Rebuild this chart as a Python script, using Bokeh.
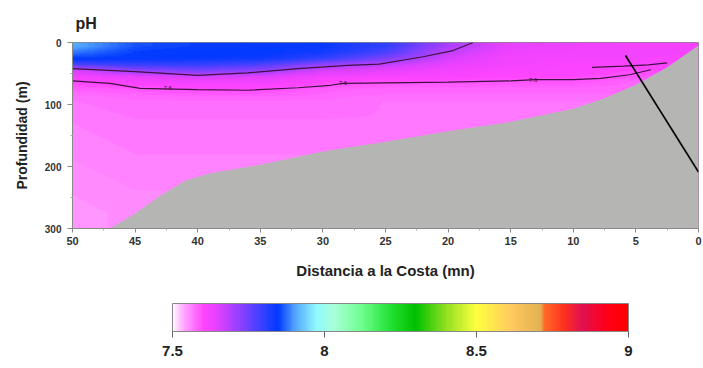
import numpy as np
from bokeh.plotting import figure
from bokeh.models import Range1d, LinearColorMapper, ColorBar, FixedTicker, Title
from bokeh.layouts import column
from bokeh.embed import file_html
from bokeh.resources import INLINE

# ---------------- data ----------------
dist_cols = [50, 45, 40, 35, 30, 25, 20, 15, 10, 5, 0]          # nm, station columns
depth_upper = [5, 15, 25, 35, 45, 55, 65, 75, 85, 95]            # m
depth_lower = [125, 175, 225, 275]                               # m

ph_upper = [
    [7.91, 7.86, 7.85, 7.845, 7.84, 7.80, 7.70, 7.64, 7.63, 7.62, 7.62],
    [7.88, 7.85, 7.845, 7.845, 7.83, 7.78, 7.68, 7.63, 7.62, 7.62, 7.62],
    [7.85, 7.845, 7.84, 7.835, 7.80, 7.74, 7.66, 7.62, 7.62, 7.62, 7.61],
    [7.78, 7.80, 7.80, 7.78, 7.72, 7.68, 7.64, 7.62, 7.61, 7.61, 7.60],
    [7.66, 7.72, 7.74, 7.72, 7.66, 7.64, 7.62, 7.61, 7.61, 7.60, 7.60],
    [7.62, 7.64, 7.66, 7.65, 7.62, 7.61, 7.61, 7.60, 7.60, 7.59, 7.59],
    [7.60, 7.61, 7.62, 7.62, 7.60, 7.59, 7.59, 7.59, 7.59, 7.58, 7.58],
    [7.585, 7.59, 7.60, 7.60, 7.585, 7.58, 7.58, 7.58, 7.58, 7.58, 7.58],
    [7.575, 7.58, 7.585, 7.585, 7.58, 7.575, 7.575, 7.575, 7.575, 7.575, 7.575],
    [7.57, 7.575, 7.575, 7.575, 7.575, 7.57, 7.57, 7.57, 7.57, 7.57, 7.57],
]
ph_lower = [
    [7.565, 7.57, 7.57, 7.57, 7.57, 7.57, 7.57, 7.57, 7.57, 7.57, 7.57],
    [7.56, 7.565, 7.565, 7.565, 7.565, 7.565, 7.565, 7.565, 7.565, 7.565, 7.565],
    [7.555, 7.56, 7.56, 7.56, 7.56, 7.56, 7.56, 7.56, 7.56, 7.56, 7.56],
    [7.55, 7.555, 7.555, 7.555, 7.555, 7.555, 7.555, 7.555, 7.555, 7.555, 7.555],
]

# contour lines
iso_a_dist = [50, 45, 40, 36, 32, 28, 25.5, 22, 19.6, 18]
iso_a_depth = [42, 47, 53, 49, 42, 37, 35, 23, 13, 0]
iso_b_dist = [50, 47, 44.6, 40, 36, 32, 29.4, 28.4, 25, 20, 15, 13, 10, 7.8, 5.5, 3.8]
iso_b_depth = [62, 66, 74, 76, 77, 73, 69, 66, 65, 64, 62, 60, 60, 58, 52, 44]
iso_c_dist = [8.5, 6, 4, 2.5]
iso_c_depth = [40, 38, 36, 33]
label_dist = [42.4, 28.4, 13.2]
label_depth = [74, 66, 60]
label_text = ["7.6", "7.6", "7.6"]

# bathymetry (bottom)
bottom_dist = [47, 45, 43, 41, 39, 35, 30, 25, 20, 15, 10, 7.5, 5, 2.5, 0]
bottom_depth = [300, 276, 247, 223, 211, 197, 176, 160, 143, 128, 107, 90, 68, 40, 5]

# transect line drawn over the section
transect_dist = [5.83, 0]
transect_depth = [21, 209]

x_ticks = [50, 45, 40, 35, 30, 25, 20, 15, 10, 5, 0]
y_ticks = [0, 100, 200, 300]
cbar_ticks = [7.5, 8, 8.5, 9]

# ---------------- palette (colour scale style) ----------------
stops = [
    (7.50, "#fff4ff"), (7.53, "#ffb0ff"), (7.57, "#ff70ff"), (7.60, "#ff44ff"),
    (7.65, "#e040ff"), (7.72, "#9040ff"), (7.80, "#3040ff"), (7.845, "#0038ff"),
    (7.90, "#50a0ff"), (7.97, "#90f8ff"), (8.03, "#a8ffd8"), (8.12, "#70ff90"),
    (8.22, "#20e030"), (8.30, "#00c000"), (8.40, "#90e020"), (8.50, "#ffff40"),
    (8.62, "#ffc860"), (8.715, "#e0b050"), (8.72, "#ff7028"), (8.79, "#ff3020"),
    (8.85, "#e01050"), (8.93, "#ff0018"), (9.00, "#ff0000"),
]
sv = np.array([s[0] for s in stops])
rgb = np.array([[int(c[1:3], 16), int(c[3:5], 16), int(c[5:7], 16)] for _, c in stops], float)
cgrid = np.linspace(7.5, 9.0, 256)
palette = []
for g in cgrid:
    r, gg, b = (np.interp(g, sv, rgb[:, k]) for k in range(3))
    palette.append("#%02x%02x%02x" % (int(round(r)), int(round(gg)), int(round(b))))
mapper = LinearColorMapper(palette=palette, low=7.5, high=9.0)

FONT = "Liberation Sans"
TXT = "#222222"

# ---------------- smooth raster of the gridded field (display only) ----------------
dist_asc = np.array(dist_cols[::-1], float)
field = np.fliplr(np.array(ph_upper + ph_lower, float))        # columns: ascending distance
depths = np.array(depth_upper + depth_lower, float)
xmin, xmax = min(dist_cols), max(dist_cols)
ymin, ymax = min(y_ticks), max(y_ticks)
nx, ny = 251, 301
xf = np.linspace(xmin, xmax, nx)
yf = np.linspace(ymin, ymax, ny)
rows = np.array([np.interp(xf, dist_asc, r) for r in field])           # (nrows, nx)
raster = np.array([np.interp(yf, depths, rows[:, j]) for j in range(nx)]).T  # (ny, nx)

# ---------------- main section ----------------
p = figure(width=703, height=288, x_range=Range1d(50, 0), y_range=Range1d(300, 0),
           output_backend="svg", toolbar_location=None,
           min_border_left=72, min_border_right=5, min_border_top=42, min_border_bottom=60)
p.title = Title(text="pH", align="left", offset=3, text_font=FONT, text_font_size="16px",
                text_font_style="bold", text_color=TXT, standoff=21)
p.grid.visible = False
p.background_fill_color = "white"
p.outline_line_color = "#8a8a8a"

p.image(image=[raster], x=xmin, y=ymin, dw=xmax - xmin, dh=ymax - ymin, color_mapper=mapper)

cl = "#3e1240"
p.line(iso_a_dist, iso_a_depth, line_color=cl, line_width=1.2)
p.line(iso_b_dist, iso_b_depth, line_color=cl, line_width=1.2)
p.line(iso_c_dist, iso_c_depth, line_color=cl, line_width=1.2)
p.text(x=label_dist, y=label_depth, text=label_text, text_font_size="6px",
       text_color=cl, text_align="center", text_baseline="middle")

p.patch(bottom_dist + [bottom_dist[-1], bottom_dist[0]],
        bottom_depth + [ymax, ymax],
        fill_color="#b5b5b3", line_color=None)

p.line(transect_dist, transect_depth, line_color="black", line_width=1.6)

p.xaxis.ticker = FixedTicker(ticks=x_ticks, minor_ticks=[t + 2.5 for t in x_ticks[1:]])
p.yaxis.ticker = FixedTicker(ticks=y_ticks, minor_ticks=[50, 150, 250])
p.xaxis.axis_label = "Distancia a la Costa (mn)"
p.yaxis.axis_label = "Profundidad (m)"
for ax in (p.xaxis, p.yaxis):
    ax.axis_label_text_font = FONT
    ax.axis_label_text_font_style = "bold"
    ax.axis_label_text_color = TXT
    ax.major_label_text_font = FONT
    ax.major_label_text_font_style = "bold"
    ax.major_label_text_color = "#333333"
    ax.axis_line_color = "#8a8a8a"
    ax.major_tick_line_color = "#8a8a8a"
    ax.minor_tick_line_color = "#b0b0b0"
    ax.major_tick_in = 0
    ax.minor_tick_in = 0
p.xaxis.axis_label_text_font_size = "15px"
p.yaxis.axis_label_text_font_size = "14px"
p.xaxis.major_label_text_font_size = "11px"
p.yaxis.major_label_text_font_size = "10px"
p.xaxis.major_tick_out = 4
p.xaxis.minor_tick_out = 2
p.yaxis.major_tick_out = 5
p.yaxis.minor_tick_out = 2
p.xaxis.major_label_standoff = 4
p.yaxis.major_label_standoff = 6
p.xaxis.axis_label_standoff = 14
p.yaxis.axis_label_standoff = 12

# ---------------- colour bar ----------------
p2 = figure(width=703, height=80, output_backend="svg", toolbar_location=None,
            min_border=0, x_range=Range1d(0, 1), y_range=Range1d(0, 1))
p2.axis.visible = False
p2.grid.visible = False
p2.outline_line_color = None
cb = ColorBar(color_mapper=mapper, orientation="horizontal", width=456, height=28,
              location=(100, 10), padding=0, ticker=FixedTicker(ticks=cbar_ticks),
              major_label_text_font=FONT, major_label_text_font_size="15px",
              major_label_text_font_style="bold", major_label_text_color=TXT,
              label_standoff=8, major_tick_out=6, major_tick_in=0,
              major_tick_line_color="#666666", bar_line_color="#888888",
              background_fill_alpha=0, border_line_color=None)
p2.add_layout(cb, "center")

layout = column(p, p2, spacing=0)
open("out.html", "w").write(file_html(layout, INLINE))
